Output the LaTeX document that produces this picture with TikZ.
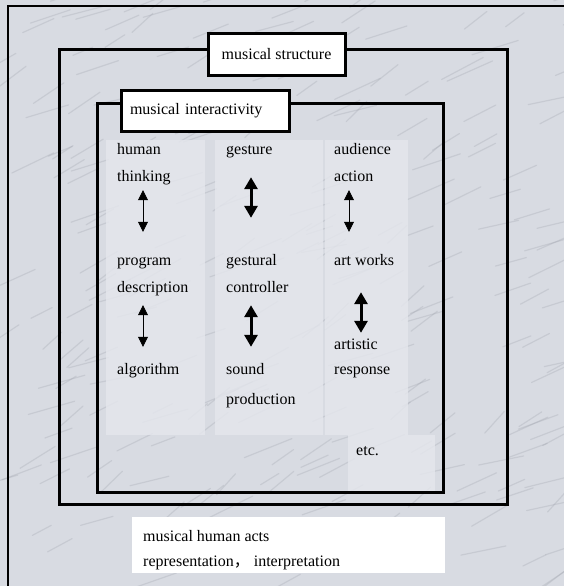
\documentclass[tikz,border=0pt]{standalone}
\usepackage{fontspec}
\setmainfont{Liberation Serif}
\newfontfamily\cjk{Noto Sans CJK SC}
\usetikzlibrary{arrows.meta}
\definecolor{marble}{RGB}{216,219,226}
\definecolor{marblelight}{RGB}{229,231,237}
\definecolor{vein}{RGB}{150,154,164}

\begin{document}
\begin{tikzpicture}[x=1pt,y=-1pt]
  \tikzset{word/.style = {anchor=base west, inner sep=0pt, text height=11pt, text depth=4pt, font=\fontsize{16}{19}\selectfont}}
  \tikzset{titlebox/.style = {draw, fill=white, line width=3pt, minimum height=41pt, font=\fontsize{16}{19}\selectfont}}
  \tikzset{frame/.style = {draw, line width=3pt}}
  \tikzset{panel/.style = {fill=marblelight, fill opacity=0.8}}
  \tikzset{%
  tipT/.tip={Triangle[width=10pt,length=10pt]},
  tipK/.tip={Triangle[width=13pt,length=12pt]},
  }
  \tikzset{thinarrow/.style = {tipT-tipT, line width=0.7pt}}
  \tikzset{thickarrow/.style = {tipK-tipK, line width=3pt}}

  \useasboundingbox (0,0) rectangle (564,586);
  \clip (0,0) rectangle (564,586);
  \fill[marble] (0,0) rectangle (564,586);
  % marble veins
  \pgfmathsetseed{7}
  \foreach \i in {1,...,260}
    \draw[vein, opacity=0.25, line width=1.2pt, line cap=round]
      ({rnd*580-10},{rnd*600-10}) coordinate (v) -- ++({18+rnd*30},{-8-rnd*14});
  \draw[line width=2.5pt] (8,6) rectangle (580,600);

  % lighter columns
  \fill[panel] (106,140) rectangle (205,435);
  \fill[panel] (215,140) rectangle (323,435);
  \fill[panel] (325,140) rectangle (408,435);
  \fill[panel] (348,435) rectangle (435,492);

  % frames
  \draw[frame] (59,50) rectangle (507,504);
  \draw[frame] (97,103) rectangle (443,492);

  \node[titlebox, minimum width=137pt] (structure) at (276.5,54.5) {musical structure};
  \node[titlebox, minimum width=168pt, text width=150pt, align=left] (interactivity) at (205,111) {musical interactivity};

  \node[fill=white, minimum width=313pt, minimum height=56pt, inner sep=0pt] (actsbox) at (288.5,545) {};
  \node[word] (acts) at (143,541) {musical human acts};
  \node[word] (repr) at (143,566) {representation{\cjk ，}\hspace{4pt}interpretation};

  % first column
  \node[word] (human) at (117,154) {human};
  \node[word] (thinking) at (117,181) {thinking};
  \node[word] (program) at (117,265) {program};
  \node[word] (description) at (117,292) {description};
  \node[word] (algorithm) at (117,374) {algorithm};

  % second column
  \node[word] (gesture) at (226,154) {gesture};
  \node[word] (gestural) at (226,265) {gestural};
  \node[word] (controller) at (226,292) {controller};
  \node[word] (sound) at (226,374) {sound};
  \node[word] (production) at (226,404) {production};

  % third column
  \node[word] (audience) at (334,154) {audience};
  \node[word] (action) at (334,181) {action};
  \node[word] (artworks) at (334,265) {art works};
  \node[word] (artistic) at (334,349) {artistic};
  \node[word] (response) at (334,374) {response};
  \node[word] (etc) at (356,455) {etc.};

  \coordinate (xa) at (143,0);
  \coordinate (xb) at (251,0);
  \coordinate (xc) at (349,0);
  \coordinate (xd) at (361,0);

  \foreach \from/\to/\x/\s/\e in {thinking/program/xa/5/22, description/algorithm/xa/9/16, action/artworks/xc/5/22}
    \draw[thinarrow, shorten <=\s pt, shorten >=\e pt] (\from.south -| \x) -- (\to.north -| \x);

  \foreach \from/\to/\x/\s/\e in {gesture/gestural/xb/19/36, controller/sound/xb/9/16, artworks/artistic/xd/23/5}
    \draw[thickarrow, shorten <=\s pt, shorten >=\e pt] (\from.south -| \x) -- (\to.north -| \x);

\end{tikzpicture}
\end{document}
